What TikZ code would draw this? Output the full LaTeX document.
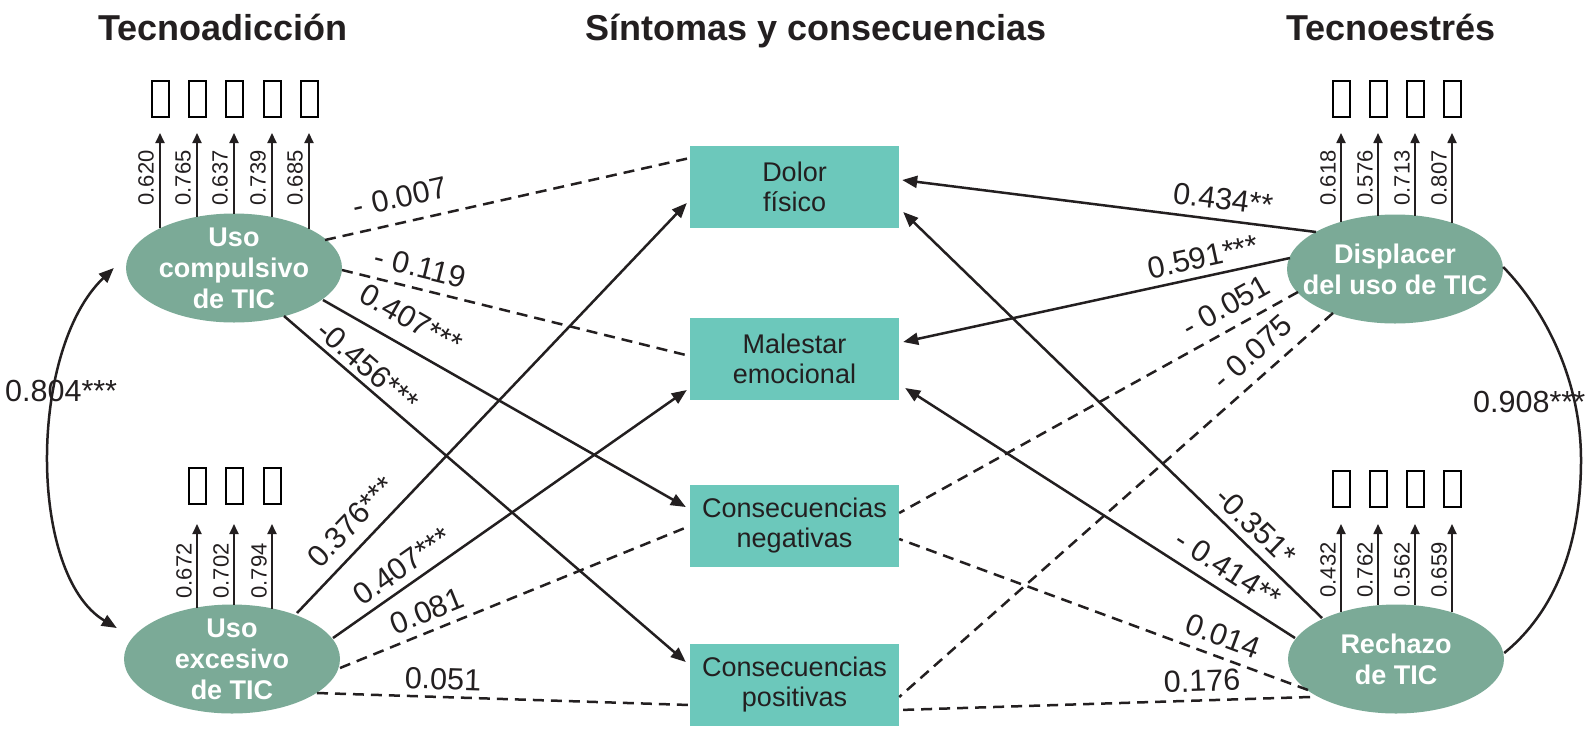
\documentclass[tikz,border=0pt]{standalone}
\usepackage{fontspec}
\setmainfont{Liberation Sans}
\usetikzlibrary{arrows.meta,calc,shapes.geometric}
\definecolor{boxteal}{RGB}{108,200,187}
\definecolor{ellgreen}{RGB}{123,170,151}
\definecolor{ink}{RGB}{35,31,32}
\begin{document}
\begin{tikzpicture}[x=1pt,y=-1pt,
  lat/.style={ellipse, fill=ellgreen, minimum width=216pt, minimum height=109pt, inner sep=0pt},
  lattext/.style={text=white, font=\fontsize{27}{31}\selectfont\bfseries, align=center, inner sep=0pt},
  obs/.style={rectangle, fill=boxteal, minimum width=209pt, minimum height=82pt, inner sep=0pt, text=ink, font=\fontsize{27}{30}\selectfont, align=center},
  ind/.style={rectangle, draw=black, line width=2pt, minimum width=17pt, minimum height=36pt, inner sep=0pt},
  head/.style={font=\fontsize{36}{40}\selectfont\bfseries, text=ink, anchor=base, inner sep=0pt},
  lab/.style={font=\fontsize{30.5}{32}\selectfont, text=ink, inner sep=0pt},
  load/.style={font=\fontsize{22}{24}\selectfont, text=ink, inner sep=0pt, rotate=90},
  sol/.style={line width=2.5pt, draw=ink, -{Triangle[length=15pt,width=12pt]}},
  dsh/.style={line width=2.5pt, draw=ink, dash pattern=on 11pt off 7pt},
  ldarrow/.style={line width=1.8pt, draw=ink, -{Triangle[length=10pt,width=9pt]}},
  curv/.style={line width=2.5pt, draw=ink},
]
\useasboundingbox (0,0) rectangle (1592,729);
\fill[white] (0,0) rectangle (1592,729);

% headings
\node[head] (h1) at (223,40) {Tecnoadicción};
\node[head] (h2) at (816,40) {Síntomas y consecuencias};
\node[head] (h3) at (1391,40) {Tecnoestrés};

% latent ellipses
\node[lat] (UC) at (234,268) {};
\node[lattext] (UCt) at (UC) {Uso\\compulsivo\\de TIC};
\node[lat] (UE) at (232,659) {};
\node[lattext] (UEt) at (UE) {Uso\\excesivo\\de TIC};
\node[lat] (D) at (1395,269) {};
\node[lattext] (Dt) at (D) {Displacer\\del uso de TIC};
\node[lat] (R) at (1396,659) {};
\node[lattext] (Rt) at (R) {Rechazo\\de TIC};

% observed boxes
\node[obs] (DF) at (794.5,187) {Dolor\\físico};
\node[obs] (ME) at (794.5,359) {Malestar\\emocional};
\node[obs] (CN) at (794.5,526) {Consecuencias\\negativas};
\node[obs] (CP) at (794.5,685) {Consecuencias\\positivas};

% indicator boxes and loadings: Uso compulsivo
\foreach \dx/\dy/\v [count=\i] in {-74/39.7/0.620,-37/51.2/0.765,0/54.5/0.637,38/51.0/0.739,75/39.2/0.685}{
  \node[ind] (UCi\i) at ($(UC)+(\dx,-169)$) {};
  \draw[ldarrow] ($(UC)+(\dx,-\dy)$) -- ($(UCi\i.south)+(0,15)$);
  \node[load] (UCl\i) at ($(UC)+(\dx-14,-90)$) {\v};
}
% Uso excesivo
\foreach \dx/\dy/\v [count=\i] in {-35/51.1/0.672,2/54/0.702,40/50.2/0.794}{
  \node[ind] (UEi\i) at ($(UE)+(\dx,-173)$) {};
  \draw[ldarrow] ($(UE)+(\dx,-\dy)$) -- ($(UEi\i.south)+(0,19)$);
  \node[load] (UEl\i) at ($(UE)+(\dx-13,-88)$) {\v};
}
% Displacer
\foreach \dx/\dy/\v [count=\i] in {-54/46.8/0.618,-17/53.3/0.576,20/53.1/0.713,57/45.9/0.807}{
  \node[ind] (Di\i) at ($(D)+(\dx,-170)$) {};
  \draw[ldarrow] ($(D)+(\dx,-\dy)$) -- ($(Di\i.south)+(0,15)$);
  \node[load] (Dl\i) at ($(D)+(\dx-13,-91)$) {\v};
}
% Rechazo
\foreach \dx/\dy/\v [count=\i] in {-55/46.9/0.432,-18/53.7/0.762,19/53.7/0.562,56/46.6/0.659}{
  \node[ind] (Ri\i) at ($(R)+(\dx,-170)$) {};
  \draw[ldarrow] ($(R)+(\dx,-\dy)$) -- ($(Ri\i.south)+(0,16)$);
  \node[load] (Rl\i) at ($(R)+(\dx-13,-89)$) {\v};
}

% paths from Uso compulsivo
\draw[dsh] ($(UC)+(91,-28)$) -- ($(DF.west)+(0,-29)$);
\draw[dsh] ($(UC)+(108,2)$) -- ($(ME.west)+(0,-3)$);
\draw[sol] ($(UC)+(89,32)$) -- ($(CN.west)+(-4,-19)$);
\draw[sol] ($(UC)+(50,48)$) -- ($(CP.west)+(-4,-23)$);
% paths from Uso excesivo
\draw[sol] ($(UE)+(65,-46)$) -- ($(DF.west)+(-3,16)$);
\draw[sol] ($(UE)+(101,-21)$) -- ($(ME.west)+(-3,31)$);
\draw[dsh] ($(UE)+(108,9)$) -- ($(CN.west)+(0,0)$);
\draw[dsh] ($(UE)+(85,34)$) -- ($(CP.west)+(0,20)$);
% paths from Displacer
\draw[sol] ($(D)+(-79,-37)$) -- ($(DF.east)+(3,-7)$);
\draw[sol] ($(D)+(-105,-11)$) -- ($(ME.east)+(4,-17)$);
\draw[dsh] ($(D)+(-97,23)$) -- ($(CN.east)+(0,-13)$);
\draw[dsh] ($(D)+(-62,44)$) -- ($(CP.east)+(0,12)$);
% paths from Rechazo
\draw[sol] ($(R)+(-74,-41)$) -- ($(DF.east)+(4,25)$);
\draw[sol] ($(R)+(-101,-21)$) -- ($(ME.east)+(6,29)$);
\draw[dsh] ($(R)+(-88,31)$) -- ($(CN.east)+(0,13)$);
\draw[dsh] ($(R)+(-86,38)$) -- ($(CP.east)+(0,25)$);

% path labels
\node[lab, rotate=12.7] (l1) at (400,197) {- 0.007};
\node[lab, rotate=-13.9] (l2) at (420,267) {- 0.119};
\node[lab, rotate=-29.7] (l3) at (411,319) {0.407***};
\node[lab, rotate=-40.8] (l4) at (368,366) {-0.456***};
\node[lab, rotate=46.4] (l5) at (351,522) {0.376***};
\node[lab, rotate=35] (l6) at (402,566) {0.407***};
\node[lab, rotate=22] (l7) at (427,611) {0.081};
\node[lab, rotate=-1.8] (l8) at (443,679) {0.051};
\node[lab, rotate=-7.2] (l9) at (1223,199) {0.434**};
\node[lab, rotate=12.2] (l10) at (1203,257) {0.591***};
\node[lab, rotate=29.2] (l11) at (1226,306) {- 0.051};
\node[lab, rotate=41.5] (l12) at (1252,352) {- 0.075};
\node[lab, rotate=-44.1] (l13) at (1256,526) {-0.351*};
\node[lab, rotate=-32.7] (l14) at (1228,569) {- 0.414**};
\node[lab, rotate=-20.3] (l15) at (1223,636) {0.014};
\node[lab, rotate=1.8] (l16) at (1202,681) {0.176};

% correlations
\coordinate (cvA) at ($(UC.west)+(-12,0)$);
\coordinate (cvB) at ($(UE.west)+(-7,-31)$);
\draw[curv, {Triangle[length=15pt,width=12pt]}-{Triangle[length=15pt,width=12pt]}] (cvA) .. controls (28,350) and (28,575) .. (cvB);
\node[lab, anchor=west] (c1) at (5,391) {0.804***};

\coordinate (cvC) at ($(D.east)+(0,-2)$);
\coordinate (cvD) at ($(R.east)+(0,-6)$);
\draw[curv] (cvC) .. controls (1545,310) and (1581,380) .. (1581,460) .. controls (1581,560) and (1545,620) .. (cvD);
\node[lab, anchor=west] (c2) at (1473,402) {0.908***};
\end{tikzpicture}
\end{document}
